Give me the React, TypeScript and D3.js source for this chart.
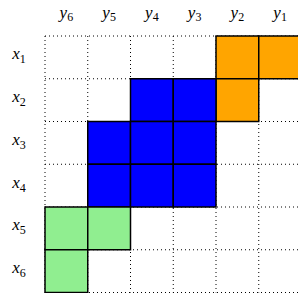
import { useEffect, useRef } from 'react';
import * as d3 from 'd3';

// column order as drawn, left to right
const columns = ['6', '5', '4', '3', '2', '1'];
const rows = ['1', '2', '3', '4', '5', '6'];

// filled cells: [row, column, group]
const orangeCells = [['1', '2'], ['1', '1'], ['2', '2']];
const blueCells = [
  ['2', '4'], ['2', '3'],
  ['3', '5'], ['3', '4'], ['3', '3'],
  ['4', '5'], ['4', '4'], ['4', '3'],
];
const greenCells = [['5', '6'], ['5', '5'], ['6', '6']];

const groups = [
  { cells: orangeCells, color: '#FFA500' },
  { cells: blueCells, color: '#0000FF' },
  { cells: greenCells, color: '#90EE90' },
];

const App = () => {
  const svgRef = useRef<SVGSVGElement>(null);

  useEffect(() => {
    const svg = d3.select(svgRef.current);
    svg.selectAll('*').remove();

    const left = 45;
    const top = 36;
    const cell = 42.75;

    const x = d3.scaleBand().domain(columns).range([left, left + cell * columns.length]);
    const y = d3.scaleBand().domain(rows).range([top, top + cell * rows.length]);

    // dotted grid
    const grid = svg.append('g')
      .attr('stroke', '#000')
      .attr('stroke-width', 1)
      .attr('stroke-dasharray', '1 3');

    const xEdges = columns.map(c => x(c)!).concat([x.range()[1]]);
    const yEdges = rows.map(r => y(r)!).concat([y.range()[1]]);

    grid.selectAll('line.v')
      .data(xEdges)
      .join('line')
      .attr('class', 'v')
      .attr('x1', d => d).attr('x2', d => d)
      .attr('y1', y.range()[0]).attr('y2', y.range()[1]);

    grid.selectAll('line.h')
      .data(yEdges)
      .join('line')
      .attr('class', 'h')
      .attr('y1', d => d).attr('y2', d => d)
      .attr('x1', x.range()[0]).attr('x2', x.range()[1]);

    // filled cells
    groups.forEach(g => {
      svg.append('g')
        .selectAll('rect')
        .data(g.cells)
        .join('rect')
        .attr('x', d => x(d[1])!)
        .attr('y', d => y(d[0])!)
        .attr('width', x.bandwidth())
        .attr('height', y.bandwidth())
        .attr('fill', g.color)
        .attr('stroke', '#000')
        .attr('stroke-width', 1.5);
    });

    const font = '"Liberation Serif", serif';

    // column labels
    const colLabels = svg.append('g')
      .selectAll('text')
      .data(columns)
      .join('text')
      .attr('x', d => x(d)! + x.bandwidth() / 2)
      .attr('y', 18)
      .attr('text-anchor', 'middle')
      .attr('font-family', font)
      .attr('font-size', 17);
    colLabels.append('tspan').attr('font-style', 'italic').text('y');
    colLabels.append('tspan').attr('font-size', 12).attr('dy', 3).text(d => d);

    // row labels
    const rowLabels = svg.append('g')
      .selectAll('text')
      .data(rows)
      .join('text')
      .attr('x', 19)
      .attr('y', d => y(d)! + y.bandwidth() / 2 + 2)
      .attr('text-anchor', 'middle')
      .attr('font-family', font)
      .attr('font-size', 17);
    rowLabels.append('tspan').attr('font-style', 'italic').text('x');
    rowLabels.append('tspan').attr('font-size', 12).attr('dy', 4).text(d => d);
  }, []);

  return (
    <svg
      ref={svgRef}
      width={298}
      height={293}
      style={{ position: 'absolute', left: 0, top: 0, background: '#fff' }}
    />
  );
};

export default App;
